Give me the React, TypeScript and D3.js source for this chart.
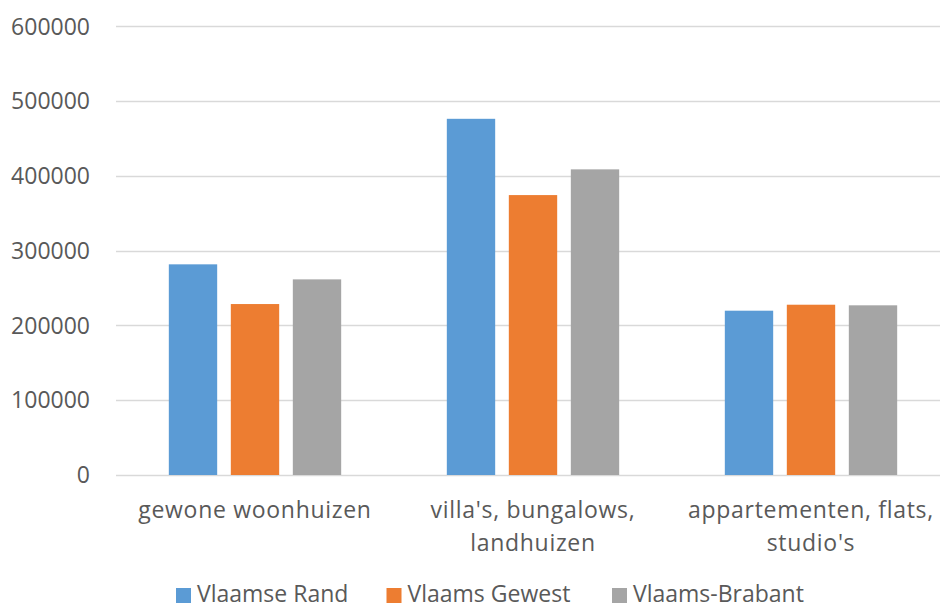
import React, { useEffect, useRef } from "react";
import * as d3 from "d3";

const categories = [
  "gewone woonhuizen",
  "villa's, bungalows, landhuizen",
  "appartementen, flats, studio's",
];
const seriesNames = ["Vlaamse Rand", "Vlaams Gewest", "Vlaams-Brabant"];
const vlaamseRand = [281700, 476300, 219700];
const vlaamsGewest = [228600, 374300, 227700];
const vlaamsBrabant = [261600, 408700, 226900];
const yTicks = [0, 100000, 200000, 300000, 400000, 500000, 600000];
const colors = ["#5B9BD5", "#ED7D31", "#A5A5A5"];

const W = 940;
const H = 608;
const FONT = "'Open Sans', sans-serif";
const TEXT = "#595959";

export default function App() {
  const ref = useRef<SVGSVGElement>(null);

  useEffect(() => {
    const svg = d3.select(ref.current);
    svg.selectAll("*").remove();

    const series = [vlaamseRand, vlaamsGewest, vlaamsBrabant];
    const left = 116;
    const right = 950;
    const top = 26.3;
    const bottom = 475;

    const y = d3.scaleLinear().domain([0, 600000]).range([bottom, top]);
    const x0 = d3
      .scaleBand<string>()
      .domain(categories)
      .range([left, right])
      .paddingInner(0.38)
      .paddingOuter(0.19);
    const x1 = d3
      .scaleBand<string>()
      .domain(seriesNames)
      .range([0, x0.bandwidth()])
      .paddingInner(0.22);

    // gridlines
    svg
      .append("g")
      .selectAll("line")
      .data(yTicks)
      .join("line")
      .attr("x1", left)
      .attr("x2", W)
      .attr("y1", (d) => Math.round(y(d)) + 0.5)
      .attr("y2", (d) => Math.round(y(d)) + 0.5)
      .attr("stroke", "#D9D9D9")
      .attr("stroke-width", 1.5);

    // y tick labels
    svg
      .append("g")
      .selectAll("text")
      .data(yTicks)
      .join("text")
      .attr("x", 90)
      .attr("y", (d) => y(d))
      .attr("dy", "0.36em")
      .attr("text-anchor", "end")
      .attr("font-family", FONT)
      .attr("font-size", 23)
      .attr("fill", TEXT)
      .text((d) => String(d));

    // bars
    const g = svg
      .append("g")
      .selectAll("g")
      .data(categories)
      .join("g")
      .attr("transform", (c) => `translate(${x0(c)},0)`);
    g.selectAll("rect")
      .data((c, i) => seriesNames.map((s, j) => ({ s, v: series[j][i], j })))
      .join("rect")
      .attr("x", (d) => x1(d.s)!)
      .attr("width", x1.bandwidth())
      .attr("y", (d) => y(d.v))
      .attr("height", (d) => bottom - y(d.v))
      .attr("fill", (d) => colors[d.j]);

    // category labels with wrapping
    const maxW = 262;
    const labels = svg.append("g");
    categories.forEach((c) => {
      const t = labels
        .append("text")
        .attr("text-anchor", "middle")
        .attr("font-family", FONT)
        .attr("font-size", 23)
        .attr("letter-spacing", 0.7)
        .attr("fill", TEXT);
      const cx = x0(c)! + x0.bandwidth() / 2;
      const words = c.split(" ");
      const lines: string[] = [];
      let cur: string[] = [];
      const probe = t.append("tspan");
      words.forEach((w) => {
        const test = [...cur, w].join(" ");
        probe.text(test);
        if ((probe.node() as SVGTSpanElement).getComputedTextLength() > maxW && cur.length) {
          lines.push(cur.join(" "));
          cur = [w];
        } else {
          cur.push(w);
        }
      });
      if (cur.length) lines.push(cur.join(" "));
      probe.remove();
      lines.forEach((l, i) => {
        t.append("tspan")
          .attr("x", cx)
          .attr("y", 518 + i * 32.5)
          .text(l);
      });
    });

    // legend
    const legendX = [176, 386.5, 612];
    const lg = svg
      .append("g")
      .selectAll("g")
      .data(seriesNames)
      .join("g")
      .attr("transform", (d, i) => `translate(${legendX[i]},0)`);
    lg.append("rect")
      .attr("x", 0)
      .attr("y", 588)
      .attr("width", 15)
      .attr("height", 15)
      .attr("fill", (d, i) => colors[i]);
    lg.append("text")
      .attr("x", 21)
      .attr("y", 602)
      .attr("font-family", FONT)
      .attr("font-size", 23)
      .attr("fill", TEXT)
      .text((d) => d);
  }, []);

  return (
    <svg
      ref={ref}
      width={W}
      height={H}
      style={{ position: "absolute", left: 0, top: 0, background: "#fff" }}
    />
  );
}
